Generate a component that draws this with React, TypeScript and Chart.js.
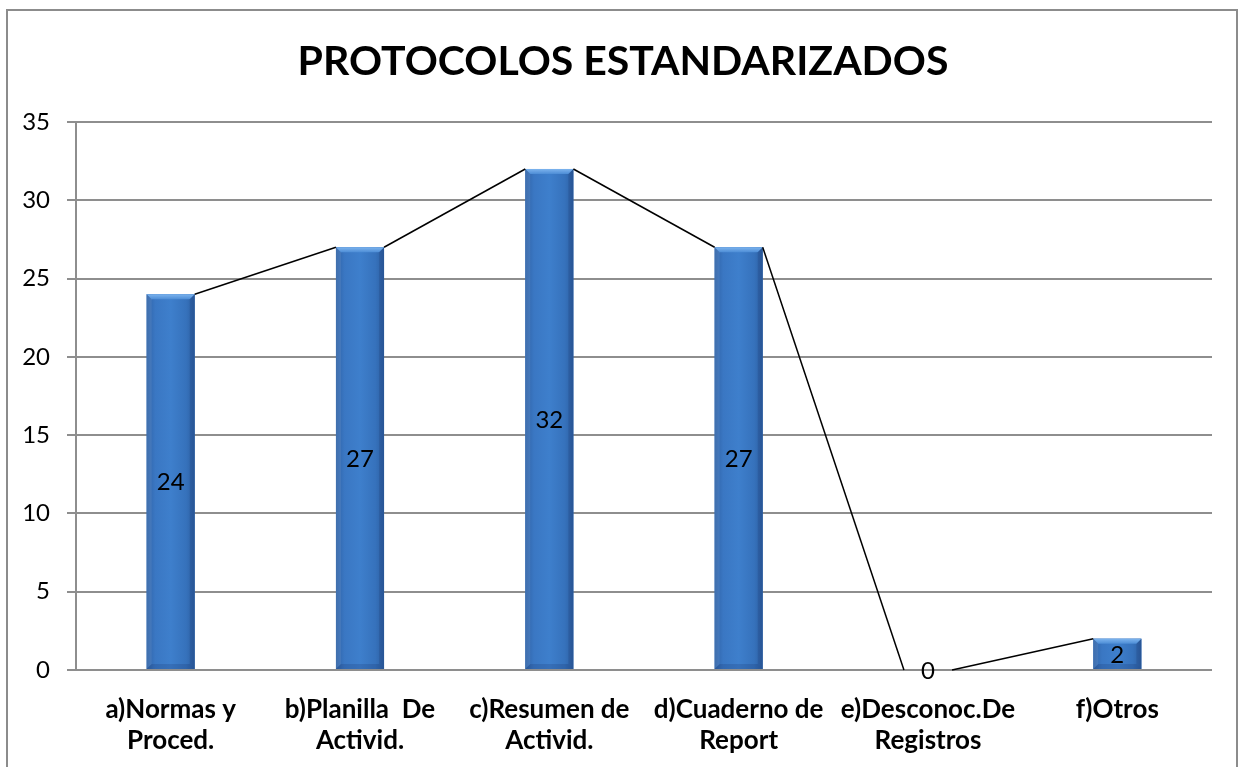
import React, { useEffect, useRef } from "react";
import { Chart, registerables } from "chart.js";

Chart.register(...registerables);

const TITLE = "PROTOCOLOS ESTANDARIZADOS";
const categories: string[][] = [
  ["a)Normas y", "Proced."],
  ["b)Planilla  De", "Activid."],
  ["c)Resumen de", "Activid."],
  ["d)Cuaderno de", "Report"],
  ["e)Desconoc.De", "Registros"],
  ["f)Otros"],
];
const values: number[] = [24, 27, 32, 27, 0, 2];
const yTicks: number[] = [0, 5, 10, 15, 20, 25, 30, 35];

const FONT = "Lato, 'Open Sans', sans-serif";

const titlePlugin = {
  id: "customTitle",
  afterDraw(chart: any) {
    const ctx = chart.ctx;
    ctx.save();
    ctx.font = `bold 41px ${FONT}`;
    ctx.fillStyle = "#000";
    ctx.textAlign = "center";
    ctx.textBaseline = "middle";
    ctx.fillText(TITLE, 623, 62);
    ctx.restore();
  },
};

const barExtras = {
  id: "barExtras",
  afterDatasetsDraw(chart: any) {
    const ctx = chart.ctx;
    const meta = chart.getDatasetMeta(0);
    const els = meta.data as any[];
    els.forEach((el: any) => {
      const { x, y, base, width } = el.getProps(["x", "y", "base", "width"], true);
      const h = base - y;
      if (!(h > 0) || !isFinite(x) || !isFinite(width)) return;
      const l = x - width / 2;
      const r = x + width / 2;
      const b = Math.min(5, h / 2);
      ctx.save();
      const gb = ctx.createLinearGradient(l, 0, r, 0);
      gb.addColorStop(0, "#2f62a6");
      gb.addColorStop(0.18, "#3a77c3");
      gb.addColorStop(0.5, "#3e7fcc");
      gb.addColorStop(0.82, "#3672bc");
      gb.addColorStop(1, "#2d5fa2");
      ctx.fillStyle = gb;
      ctx.fillRect(l, y, width, h);
      const g = ctx.createLinearGradient(0, y, 0, y + b);
      g.addColorStop(0, "#7db4ee");
      g.addColorStop(1, "#4d8dd6");
      ctx.fillStyle = g;
      ctx.beginPath();
      ctx.moveTo(l, y);
      ctx.lineTo(r, y);
      ctx.lineTo(r - b, y + b);
      ctx.lineTo(l + b, y + b);
      ctx.closePath();
      ctx.fill();
      ctx.fillStyle = "rgba(255,255,255,0.08)";
      ctx.beginPath();
      ctx.moveTo(l, y);
      ctx.lineTo(l + b, y + b);
      ctx.lineTo(l + b, base - b);
      ctx.lineTo(l, base);
      ctx.closePath();
      ctx.fill();
      ctx.fillStyle = "rgba(0,0,40,0.10)";
      ctx.beginPath();
      ctx.moveTo(r, y);
      ctx.lineTo(r - b, y + b);
      ctx.lineTo(r - b, base - b);
      ctx.lineTo(r, base);
      ctx.closePath();
      ctx.fill();
      ctx.fillStyle = "rgba(0,0,40,0.12)";
      ctx.beginPath();
      ctx.moveTo(l, base);
      ctx.lineTo(l + b, base - b);
      ctx.lineTo(r - b, base - b);
      ctx.lineTo(r, base);
      ctx.closePath();
      ctx.fill();
      ctx.restore();
    });
    ctx.save();
    ctx.strokeStyle = "#000";
    ctx.lineWidth = 1.5;
    for (let i = 0; i < els.length - 1; i++) {
      const a = els[i].getProps(["x", "y", "width"], true);
      const c = els[i + 1].getProps(["x", "y", "width"], true);
      ctx.beginPath();
      ctx.moveTo(a.x + a.width / 2, a.y);
      ctx.lineTo(c.x - c.width / 2, c.y);
      ctx.stroke();
    }
    ctx.restore();
    ctx.save();
    ctx.font = `24px ${FONT}`;
    ctx.fillStyle = "#000";
    ctx.textAlign = "center";
    ctx.textBaseline = "middle";
    els.forEach((el: any, i: number) => {
      const { x, y, base } = el.getProps(["x", "y", "base"], true);
      ctx.fillText(String(values[i]), x, (y + base) / 2 + 1);
    });
    ctx.restore();
  },
};

export default function App() {
  const ref = useRef<HTMLCanvasElement>(null);
  useEffect(() => {
    if (!ref.current) return;
    const chart = new Chart(ref.current, {
      type: "bar",
      data: {
        labels: categories,
        datasets: [
          {
            data: values,
            barPercentage: 0.254,
            categoryPercentage: 1,
            borderWidth: 0,
            backgroundColor: "#3a76c2",
          },
        ],
      },
      options: {
        responsive: false,
        animation: false,
        layout: { padding: { left: 0, right: 29, top: 122, bottom: 0 } },
        plugins: {
          legend: { display: false },
          tooltip: { enabled: false },
          title: { display: false },
        },
        scales: {
          x: {
            grid: { display: false, drawTicks: false },
            border: { display: false },
            ticks: {
              color: "#000",
              padding: 24,
              maxRotation: 0,
              autoSkip: false,
              font: { family: FONT, size: 26, weight: "bold", lineHeight: 1.2 },
            },
            afterFit: (s: any) => {
              s.height = 97;
            },
          },
          y: {
            min: 0,
            max: 35,
            afterBuildTicks: (s: any) => {
              s.ticks = yTicks.map((v) => ({ value: v }));
            },
            grid: { color: "#8e8e8e", lineWidth: 2, tickLength: 9, drawTicks: true },
            border: { display: true, color: "#8e8e8e", width: 2 },
            ticks: {
              color: "#000",
              padding: 17,
              font: { family: FONT, size: 24 },
            },
            afterFit: (s: any) => {
              s.width = 76;
            },
          },
        },
      },
      plugins: [barExtras, titlePlugin],
    });
    return () => chart.destroy();
  }, []);
  return (
    <div style={{ position: "fixed", left: 0, top: 0, width: 1241, height: 767, overflow: "hidden", background: "#fff" }}>
      <div
        style={{
          position: "absolute",
          left: 6,
          top: 9,
          width: 1232,
          height: 800,
          border: "2px solid #8c8c8c",
          boxSizing: "border-box",
        }}
      />
      <canvas ref={ref} width={1241} height={767} style={{ position: "absolute", left: 0, top: 0, width: 1241, height: 767 }} />
    </div>
  );
}
